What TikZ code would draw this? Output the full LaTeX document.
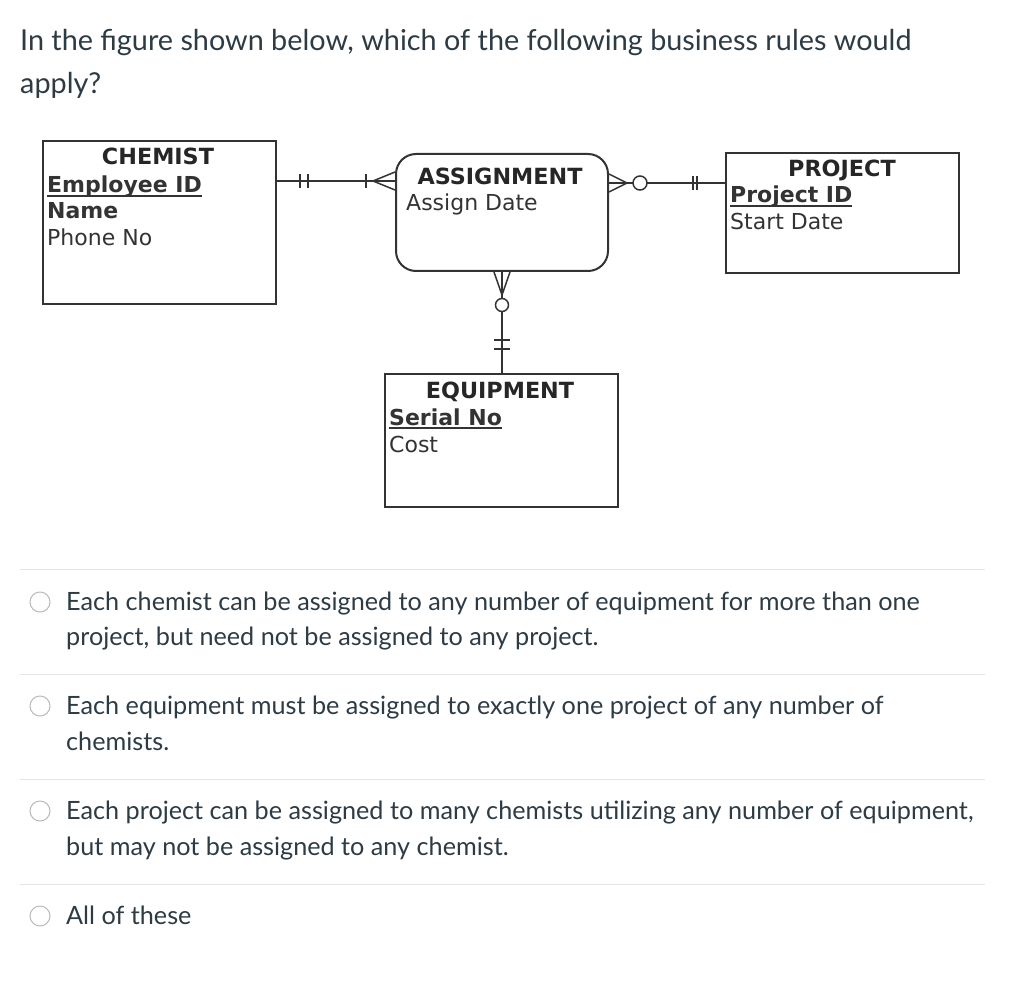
\documentclass[tikz,border=0pt]{standalone}
\usepackage{fontspec}
\setmainfont{Lato}
\newfontfamily\erfont{DejaVu Sans}
\usetikzlibrary{calc}
\definecolor{canvastext}{HTML}{2D3B45}
\definecolor{erline}{HTML}{333333}
\newcommand\keyattr[1]{\setbox0\hbox{#1}\rlap{\rule[-4pt]{\wd0}{1.6pt}}\box0}

\begin{document}
\begin{tikzpicture}[x=1pt,y=-1pt,
    entity/.style={draw=erline, line width=2pt, anchor=north west, inner sep=0pt},
    rel/.style={draw=erline, line width=1.5pt},
    title/.style={font=\erfont\bfseries\fontsize{22.3}{26}\selectfont, text=black!85, anchor=base, inner sep=0pt},
    attr/.style={font=\erfont\fontsize{22}{26}\selectfont, text=black!80, anchor=base west, inner sep=0pt},
    para/.style={font=\fontsize{25.2}{30}\selectfont, text=canvastext, anchor=base west, inner sep=0pt},
    radio/.style={draw=gray!55, line width=1pt, fill=white},
    sep/.style={draw=gray!20, line width=1pt}]
    \fill[white] (0,0) rectangle (1024,981);
    \useasboundingbox (0,0) rectangle (1024,981);

    % question
    \node[para, font=\fontsize{28.8}{34}\selectfont] (q1) at (20,51) {In the figure shown below, which of the following business rules would};
    \node[para, font=\fontsize{28.8}{34}\selectfont] (q2) at (20,94) {apply?};

    % entities
    \node[entity, minimum width=233pt, minimum height=163pt] (chem) at (42,140) {};
    \node[entity, minimum width=212pt, minimum height=117pt, rounded corners=20pt] (assign) at (395,153) {};
    \node[entity, minimum width=233pt, minimum height=120pt] (proj) at (725,152) {};
    \node[entity, minimum width=233pt, minimum height=133pt] (equip) at (384,373) {};

    \node[title] (chemT) at (158,165) {CHEMIST};
    \node[attr] (chemA) at (47,193) {\bfseries\keyattr{Employee ID}};
    \node[attr] (chemB) at (47,219) {\bfseries Name};
    \node[attr] (chemC) at (47,246) {Phone No};

    \node[title] (assignT) at (500,185) {ASSIGNMENT};
    \node[attr] (assignA) at (406,211) {Assign Date};

    \node[title] (projT) at (842,177) {PROJECT};
    \node[attr] (projA) at (730,203) {\bfseries\keyattr{Project ID}};
    \node[attr] (projB) at (730,230) {Start Date};

    \node[title] (equipT) at (500,398) {EQUIPMENT};
    \node[attr] (equipA) at (389,425) {\bfseries\keyattr{Serial No}};
    \node[attr] (equipB) at (389,452) {Cost};

    % chemist -- assignment
    \coordinate (A1) at ($(chem.north east)+(0,41)$); \coordinate (A2) at ($(assign.north west)+(0,28)$);
    \draw[rel] (A1) -- (A2);
    \foreach \d in {23,31} \draw[rel] ($(A1)+(\d,-7)$) -- ++(0,14);
    \draw[rel] ($(A2)+(-29,-7)$) -- ++(0,14);
    \draw[rel] ($(A2)+(0,-9)$) -- ($(A2)+(-22,0)$) -- ($(A2)+(0,9)$);

    % assignment -- project
    \coordinate (B1) at ($(assign.north east)+(0,30)$); \coordinate (B2) at ($(proj.north west)+(0,31)$);
    \draw[rel] (B1) -- (B2);
    \draw[rel] ($(B1)+(0,-9)$) -- ($(B1)+(18,0)$) -- ($(B1)+(0,9)$);
    \draw[rel, fill=white] ($(B1)+(31,0)$) circle (7);
    \foreach \d in {32,28} \draw[rel] ($(B2)+(-\d,-7)$) -- ++(0,14);

    % assignment -- equipment
    \coordinate (C1) at (assign.south); \coordinate (C2) at (assign.south |- equip.north);
    \draw[rel] (C1) -- (C2);
    \draw[rel] ($(C1)+(-8,0)$) -- ($(C1)+(0,23)$) -- ($(C1)+(8,0)$);
    \draw[rel, fill=white] ($(C1)+(0,33)$) circle (6.5);
    \foreach \d in {33,24} \draw[rel] ($(C2)+(-8,-\d)$) -- ++(16,0);

    % answers
    \foreach \y in {569,674,779,884} \draw[sep] (20,\y) -- (985,\y);
    \foreach \y in {602,706,811,916} \draw[radio] (40,\y) circle (10);
    \node[para] (o1a) at (66,610) {Each chemist can be assigned to any number of equipment for more than one};
    \node[para] (o1b) at (66,645) {project, but need not be assigned to any project.};
    \node[para] (o2a) at (66,714) {Each equipment must be assigned to exactly one project of any number of};
    \node[para] (o2b) at (66,750) {chemists.};
    \node[para] (o3a) at (66,819) {Each project can be assigned to many chemists utilizing any number of equipment,};
    \node[para] (o3b) at (66,855) {but may not be assigned to any chemist.};
    \node[para] (o4) at (66,924) {All of these};
\end{tikzpicture}
\end{document}
